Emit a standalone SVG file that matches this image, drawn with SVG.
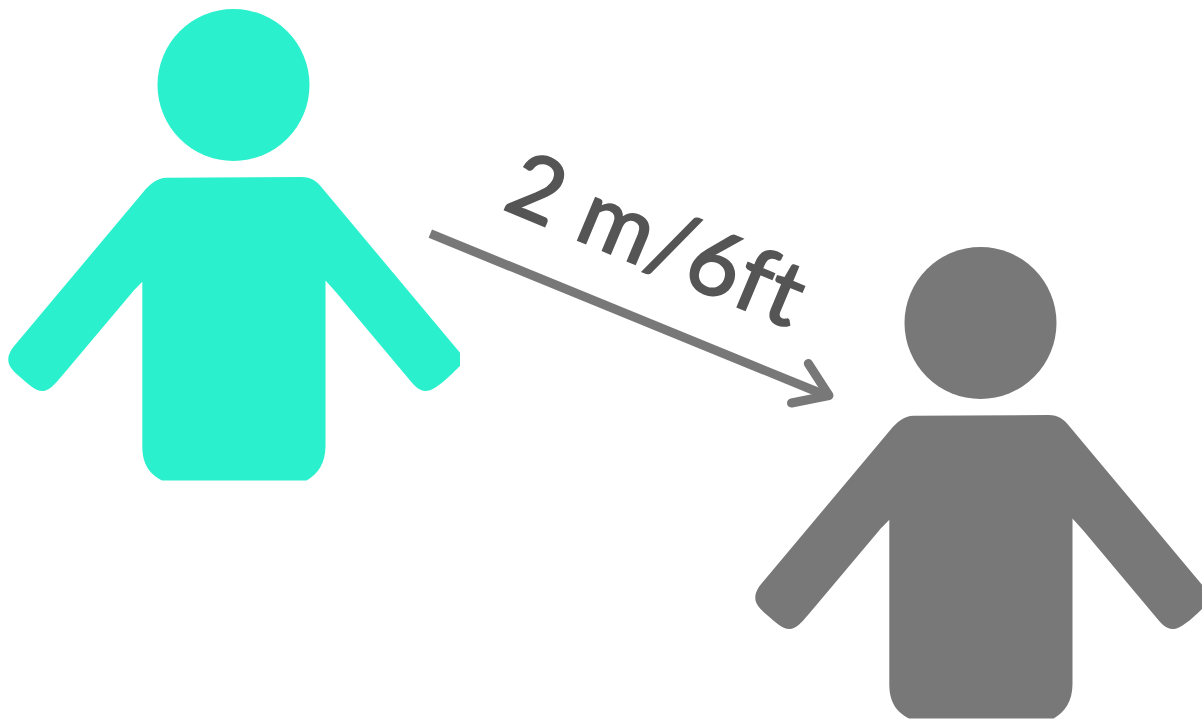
<svg xmlns="http://www.w3.org/2000/svg" width="1202" height="720" viewBox="0 0 1202 720">
<defs>
<g id="person">
<circle cx="233.500" cy="85" r="76"/>
<path d="M166.500 177.800 L301.700 177 C311 177 317 181 323 189 L460 352.700 L460 366 C446 380 434 391 426 391 C418 391 413 384 408 378 L336.700 293 L325.500 280.500 L325.500 446 C325.500 463 318 474 306.700 480.500 L162 480.500 C150 474 142.300 465 142.300 446 L142.300 281.700 C138 286 134 290 131.700 293 L61 377 C55 384 49 391 42.500 391 C35 391 27 383 20 377 C13 371 8.300 366 8.300 360 C8.300 354 11 350 15 345 L143.300 192 C150 184 157 178 166.500 177.800 Z"/>
</g>
</defs>
<style>
.arrow{fill:none;stroke:#787878;stroke-width:9;}
.label{font-family:"Lato","Liberation Sans",sans-serif;font-size:90px;letter-spacing:1px;fill:#555555;stroke:#555555;stroke-width:2;}
</style>
<rect width="1202" height="720" fill="#ffffff"/>
<g id="person-teal" fill="#2bf0cd"><use href="#person"/></g>
<g id="person-gray" fill="#787878"><use href="#person" x="747" y="238"/></g>
<g id="connectors">
<path class="arrow" d="M430.300 233.700 L825 395"/>
<path class="arrow" stroke-linecap="round" stroke-linejoin="round" d="M808.300 363.500 L829 395.500 L791.500 403"/>
</g>
<text class="label" transform="translate(501 208) rotate(22.700)">2 m/6ft</text>
</svg>
